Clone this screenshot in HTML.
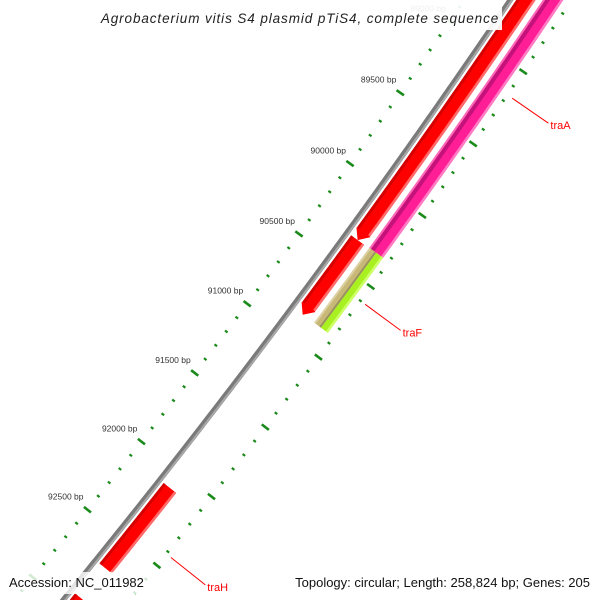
<!DOCTYPE html>
<html><head><meta charset="utf-8"><style>
html,body{margin:0;padding:0;background:#fff;width:600px;height:600px;overflow:hidden;}
svg{display:block;overflow:hidden;}
text{font-family:"Liberation Sans",sans-serif;}
</style></head><body>
<svg id="map" width="600" height="600" viewBox="0 0 600 600" xmlns="http://www.w3.org/2000/svg">
<g id="backbone"></g>
<g id="rulers"></g>
<g id="features"></g>
<g id="labels"></g>
<rect x="97" y="4" width="405" height="26" fill="#fff" opacity="0.92"/>
<text x="300" y="23" text-anchor="middle" font-size="13.5" font-style="italic" letter-spacing="0.9" fill="#222">Agrobacterium vitis S4 plasmid pTiS4, complete sequence</text>
<rect x="5" y="572" width="150" height="22" fill="#fff" opacity="0.8"/>
<text x="9" y="587" font-size="13" fill="#111">Accession: NC_011982</text>
<rect x="283" y="572" width="312" height="22" fill="#fff" opacity="0.8"/>
<text x="590" y="587" text-anchor="end" font-size="13" fill="#111">Topology: circular; Length: 258,824 bp; Genes: 205</text>
</svg>
<script>
// geometry of the zoomed circle
const CX=-6266, CY=-4582, R=8180, A0=35.04, K=0.001223;
// data
const featureNames=["red-fwd-1","red-fwd-2","traA","traF-a","traF-b","traH","red-fwd-3"];
const featureStart=[88000,90330,88000,90326,90326,92108,92918];
const featureEnd=[90330,90860,90326,90857,90857,92697,94000];
const featureArrow=[1,1,0,0,0,0,0];
const featureTrack=["red","red","pink","olive","lime","red","red"];
const tickStart=88600, tickEnd=93400, tickStep=100, majorStep=500, labelMax=92500;
const labelNames=["traA","traF","traH"];
const labelBp=[89160,90600,92415];

const NS="http://www.w3.org/2000/svg";
function pt(bp,off){const a=(A0+(bp-89500)*K)*Math.PI/180;const r=R+off;return [CX+r*Math.cos(a),CY+r*Math.sin(a)];}
function mk(tag,attrs,parent){const e=document.createElementNS(NS,tag);for(const k in attrs)e.setAttribute(k,attrs[k]);parent.appendChild(e);return e;}
function arcPts(s,e,off){const out=[];const n=Math.max(2,Math.ceil(Math.abs(e-s)/20));for(let i=0;i<=n;i++){out.push(pt(s+(e-s)*i/n,off));}return out;}
function bandPath(s,e,o1,o2,arrow){
  const alen=55;let pts=[];
  if(arrow){const e2=e-alen;pts=pts.concat(arcPts(s,e2,o2));pts.push(pt(e2,o2+0.5));pts.push(pt(e,(o1+o2)/2));pts.push(pt(e2,o1-0.5));pts=pts.concat(arcPts(e2,s,o1));}
  else{pts=pts.concat(arcPts(s,e,o2));pts=pts.concat(arcPts(e,s,o1));}
  return "M"+pts.map(p=>p[0].toFixed(2)+","+p[1].toFixed(2)).join("L")+"Z";
}
const tracks={
  red:{o1:5,o2:21,fill:"#ff0000",stripes:[[5,8,"#d40000"],[18.5,21,"#ff6a6a"]]},
  pink:{o1:27,o2:44,fill:"#ff1e96",stripes:[[27,29,"#ff6ab8"],[29,33,"#c4127a"],[41.5,44,"#ff7cc4"]]},
  olive:{o1:27,o2:35.5,fill:"#c8b878",stripes:[[27,29,"#ddd0a0"],[33.5,35.5,"#9a9060"]]},
  lime:{o1:35.5,o2:44,fill:"#a8f020",stripes:[[41.5,44,"#ccff66"]]}
};
// backbone
const bb=document.getElementById("backbone");
const bbp=arcPts(88000,94000,0);
const bbd="M"+bbp.map(p=>p[0].toFixed(2)+","+p[1].toFixed(2)).join("L");
let el=mk("path",{d:bbd,fill:"none",stroke:"#7a7a7a","stroke-width":5.5},bb);


const bbp2=arcPts(88000,94000,1.5);
el=mk("path",{d:"M"+bbp2.map(p=>p[0].toFixed(2)+","+p[1].toFixed(2)).join("L"),fill:"none",stroke:"#a8a8a8","stroke-width":2},bb);


// rulers
const rg=document.getElementById("rulers");
for(let bp=tickStart;bp<=tickEnd;bp+=tickStep){
  const major=bp%majorStep===0;
  const h=major?4.5:1.6;
  let a=pt(bp,-38-h),b=pt(bp,-38+h);
  el=mk("line",{x1:a[0],y1:a[1],x2:b[0],y2:b[1],stroke:"#1a8a1a","stroke-width":major?2.6:2.2},rg);
  
  
  a=pt(bp,51-h);b=pt(bp,51+h);
  el=mk("line",{x1:a[0],y1:a[1],x2:b[0],y2:b[1],stroke:"#1a8a1a","stroke-width":major?2.6:2.2},rg);
  
  
  if(major && bp<=labelMax){
    const t=pt(bp,-38);
    el=mk("text",{x:(t[0]-4).toFixed(1),y:(t[1]-10).toFixed(1),"text-anchor":"end","font-size":"8.5",fill:"#333"},rg);
    el.textContent=bp+" bp";
    
    
  }
}
// features
const fg=document.getElementById("features");
for(let i=0;i<featureNames.length;i++){
  const t=tracks[featureTrack[i]];
  const g=mk("g",{},fg);
  
  
  el=mk("path",{d:bandPath(featureStart[i],featureEnd[i],t.o1,t.o2,featureArrow[i]),fill:t.fill},g);
  
  
  const endTrim=featureArrow[i]?58:0;
  for(const s of t.stripes){
    el=mk("path",{d:bandPath(featureStart[i],featureEnd[i]-endTrim,s[0],s[1],0),fill:s[2]},g);
    
    
  }
}
// labels
const lg=document.getElementById("labels");
for(let i=0;i<labelNames.length;i++){
  const a=pt(labelBp[i],57),b=pt(labelBp[i],101);
  el=mk("line",{x1:a[0],y1:a[1],x2:b[0],y2:b[1],stroke:"#ff0000","stroke-width":1},lg);
  
  
  el=mk("text",{x:(b[0]+2).toFixed(1),y:(b[1]+6).toFixed(1),"font-size":"11",fill:"#ff0000"},lg);
  el.textContent=labelNames[i];
  
  
}
</script>
</body></html>
